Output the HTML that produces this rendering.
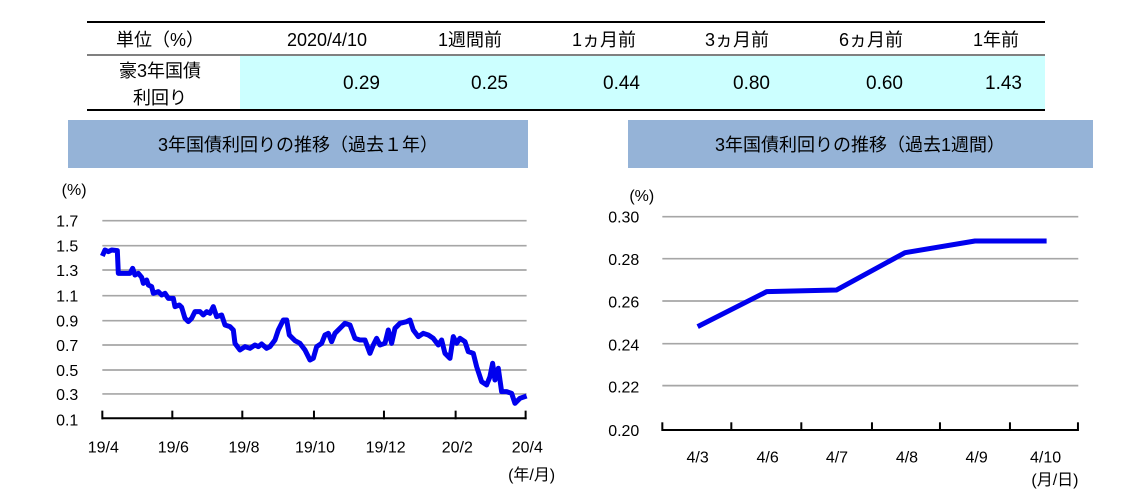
<!DOCTYPE html>
<html><head><meta charset="utf-8"><style>
body{margin:0;background:#fff;width:1144px;height:496px;overflow:hidden;font-family:"Liberation Sans","Noto Sans CJK JP",sans-serif;}
</style></head><body>
<svg width="1144" height="496" xmlns="http://www.w3.org/2000/svg" font-family="Liberation Sans, Noto Sans CJK JP, sans-serif">
<!-- table -->
<rect x="240" y="56" width="805" height="54" fill="#ccffff"/>
<line x1="87" y1="22" x2="1045" y2="22" stroke="#000" stroke-width="2"/>
<line x1="87" y1="55" x2="1045" y2="55" stroke="#000" stroke-width="1"/>
<line x1="87" y1="110" x2="1045" y2="110" stroke="#000" stroke-width="2"/>
<g font-size="18" fill="#000" text-anchor="middle">
<text x="160" y="46">単位（%）</text>
<text x="327" y="46">2020/4/10</text>
<text x="470" y="46">1週間前</text>
<text x="604" y="46">1ヵ月前</text>
<text x="737" y="46">3ヵ月前</text>
<text x="871" y="46">6ヵ月前</text>
<text x="996" y="46">1年前</text>
<text x="160" y="77">豪3年国債</text>
<text x="160" y="104">利回り</text>
</g>
<g font-size="19" fill="#000" text-anchor="end">
<text x="380" y="89">0.29</text>
<text x="508" y="89">0.25</text>
<text x="640" y="89">0.44</text>
<text x="770" y="89">0.80</text>
<text x="903" y="89">0.60</text>
<text x="1022" y="89">1.43</text>
</g>
<rect x="68" y="120" width="460" height="48" fill="#95b3d7"/>
<rect x="628" y="120" width="465" height="48" fill="#95b3d7"/>
<text x="298" y="151" font-size="18" text-anchor="middle">3年国債利回りの推移（過去１年）</text>
<text x="860" y="151" font-size="18" text-anchor="middle">3年国債利回りの推移（過去1週間）</text>

<!-- left chart -->
<g transform="translate(40,170) scale(0.3333)">
<g stroke="#a6a6a6" stroke-width="5">
<line x1="187" y1="152" x2="1460" y2="152"/><line x1="187" y1="227" x2="1460" y2="227"/>
<line x1="187" y1="300" x2="1460" y2="300"/><line x1="187" y1="377" x2="1460" y2="377"/>
<line x1="187" y1="452" x2="1460" y2="452"/><line x1="187" y1="525" x2="1460" y2="525"/>
<line x1="187" y1="600" x2="1460" y2="600"/><line x1="187" y1="672" x2="1460" y2="672"/>
</g>
<g stroke="#000" stroke-width="6">
<line x1="185" y1="745" x2="1460" y2="745"/>
<line x1="187" y1="722" x2="187" y2="748"/><line x1="397" y1="722" x2="397" y2="748"/>
<line x1="607" y1="722" x2="607" y2="748"/><line x1="822" y1="722" x2="822" y2="748"/>
<line x1="1032" y1="722" x2="1032" y2="748"/><line x1="1247" y1="722" x2="1247" y2="748"/>
<line x1="1457" y1="722" x2="1457" y2="748"/>
</g>
<polyline fill="none" stroke="#0000ee" stroke-width="15" stroke-linejoin="round" points="187,258 195,240 205,245 215,240 232,242 235,310 270,310 278,295 285,315 295,310 305,322 310,340 320,330 325,345 335,350 340,370 355,365 365,375 375,370 385,385 400,385 405,410 418,405 425,412 435,445 445,455 455,445 465,425 480,425 490,435 500,425 510,430 520,410 530,440 545,435 555,465 570,470 580,480 585,520 600,540 615,530 630,535 645,525 655,530 665,522 680,535 690,530 705,510 715,480 730,450 740,450 748,495 765,512 780,520 795,540 810,570 820,565 830,530 845,520 855,495 865,490 875,515 885,490 905,470 915,460 930,465 945,505 960,510 975,510 990,550 1000,525 1010,505 1020,525 1035,520 1045,480 1055,520 1065,475 1080,460 1100,455 1110,450 1120,480 1135,500 1150,490 1165,495 1180,505 1195,525 1205,510 1215,550 1230,565 1240,500 1250,520 1260,505 1275,515 1285,545 1300,550 1310,590 1325,635 1340,645 1350,620 1358,580 1365,630 1375,595 1385,665 1400,665 1415,670 1425,700 1440,685 1460,678"/>
<g font-size="48" fill="#000">
<text x="65" y="75">(%)</text>
<g text-anchor="end">
<text x="115" y="170">1.7</text><text x="115" y="245">1.5</text><text x="115" y="318">1.3</text>
<text x="115" y="395">1.1</text><text x="115" y="470">0.9</text><text x="115" y="543">0.7</text>
<text x="115" y="618">0.5</text><text x="115" y="690">0.3</text><text x="115" y="767">0.1</text>
</g>
<g text-anchor="middle">
<text x="190" y="847">19/4</text><text x="400" y="847">19/6</text><text x="612" y="847">19/8</text>
<text x="825" y="847">19/10</text><text x="1037" y="847">19/12</text><text x="1252" y="847">20/2</text>
<text x="1462" y="847">20/4</text><text x="1475" y="930">(年/月)</text>
</g>
</g>
</g>

<!-- right chart -->
<g transform="translate(590,175) scale(0.3333)">
<g stroke="#a6a6a6" stroke-width="5">
<line x1="217" y1="125" x2="1465" y2="125"/><line x1="217" y1="251" x2="1465" y2="251"/>
<line x1="217" y1="378" x2="1465" y2="378"/><line x1="217" y1="506" x2="1465" y2="506"/>
<line x1="217" y1="632" x2="1465" y2="632"/>
</g>
<g stroke="#000" stroke-width="6">
<line x1="215" y1="765" x2="1465" y2="765"/>
<line x1="217" y1="742" x2="217" y2="768"/><line x1="424" y1="742" x2="424" y2="768"/>
<line x1="634" y1="742" x2="634" y2="768"/><line x1="846" y1="742" x2="846" y2="768"/>
<line x1="1050" y1="742" x2="1050" y2="768"/><line x1="1260" y1="742" x2="1260" y2="768"/>
<line x1="1464" y1="742" x2="1464" y2="768"/>
</g>
<polyline fill="none" stroke="#0000ee" stroke-width="15" stroke-linejoin="round" points="323,455 530,350 740,345 945,233 1155,198 1370,198"/>
<g font-size="48" fill="#000">
<text x="118" y="78">(%)</text>
<g text-anchor="end">
<text x="148" y="142">0.30</text><text x="148" y="270">0.28</text><text x="148" y="398">0.26</text>
<text x="148" y="526">0.24</text><text x="148" y="653">0.22</text><text x="148" y="783">0.20</text>
</g>
<g text-anchor="middle">
<text x="323" y="862">4/3</text><text x="533" y="862">4/6</text><text x="741" y="862">4/7</text>
<text x="951" y="862">4/8</text><text x="1160" y="862">4/9</text><text x="1367" y="862">4/10</text>
<text x="1395" y="930">(月/日)</text>
</g>
</g>
</g>
</svg>
</body></html>
